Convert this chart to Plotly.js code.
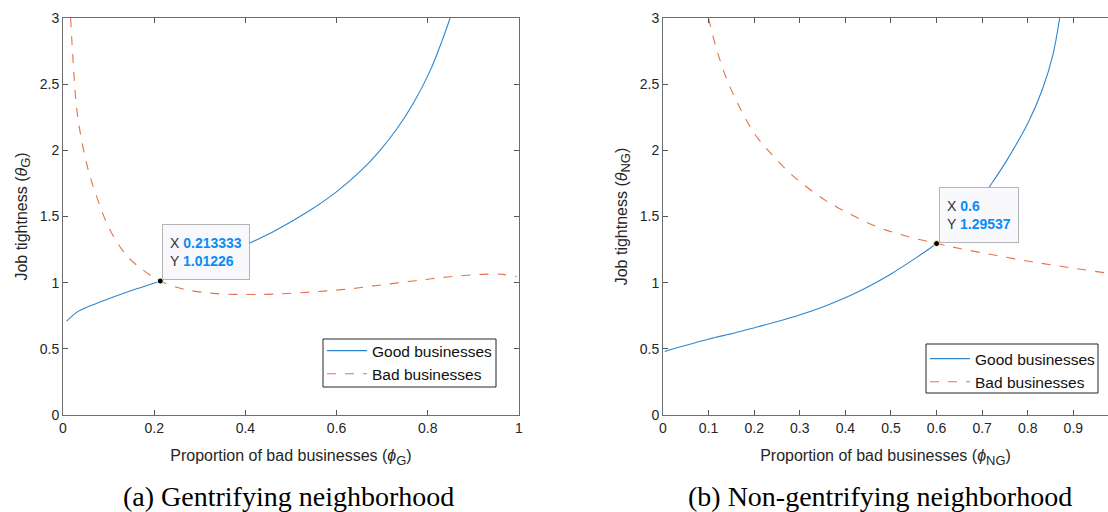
<!DOCTYPE html>
<html>
<head>
<meta charset="utf-8">
<script src="https://cdn.plot.ly/plotly-3.0.1.min.js"></script>
<style>html,body{margin:0;padding:0;background:#fff;}#chart{width:1108px;height:512px;}</style>
</head>
<body>
<div id="chart"></div>
<script>
// ---- Panel (a): Gentrifying neighborhood ----
const gGoodX = [0.008, 0.034, 0.087, 0.147, 0.213, 0.26, 0.31, 0.36, 0.405, 0.465, 0.541, 0.601, 0.654, 0.692, 0.730, 0.768, 0.806, 0.832, 0.849];
const gGoodY = [0.709, 0.785, 0.861, 0.937, 1.012, 1.07, 1.13, 1.21, 1.291, 1.392, 1.545, 1.69, 1.848, 1.987, 2.152, 2.354, 2.608, 2.835, 3.0];
const gBadX = [0.0166, 0.0227, 0.030, 0.0416, 0.0567, 0.0756, 0.102, 0.140, 0.178, 0.213, 0.261, 0.329, 0.405, 0.465, 0.541, 0.617, 0.692, 0.768, 0.843, 0.919, 0.964, 0.995];
const gBadY = [3.0, 2.646, 2.316, 2.063, 1.835, 1.633, 1.405, 1.203, 1.089, 1.012, 0.954, 0.919, 0.911, 0.914, 0.929, 0.949, 0.980, 1.013, 1.043, 1.063, 1.063, 1.046];
const gTip = {x: 0.213333, y: 1.01226};

// ---- Panel (b): Non-gentrifying neighborhood ----
const ngGoodX = [0.004, 0.042, 0.101, 0.157, 0.201, 0.249, 0.301, 0.349, 0.401, 0.449, 0.501, 0.548, 0.600, 0.65, 0.69, 0.719, 0.755, 0.801, 0.832, 0.855, 0.870];
const ngGoodY = [0.481, 0.519, 0.575, 0.620, 0.660, 0.705, 0.758, 0.815, 0.888, 0.968, 1.068, 1.172, 1.296, 1.44, 1.60, 1.74, 1.93, 2.21, 2.46, 2.72, 3.0];
const ngBadX = [0.0997, 0.119, 0.142, 0.173, 0.203, 0.234, 0.272, 0.311, 0.357, 0.403, 0.464, 0.525, 0.600, 0.656, 0.732, 0.809, 0.886, 0.976];
const ngBadY = [3.0, 2.747, 2.519, 2.291, 2.114, 1.987, 1.848, 1.734, 1.620, 1.532, 1.430, 1.36, 1.296, 1.255, 1.205, 1.158, 1.117, 1.071];
const ngTip = {x: 0.6, y: 1.29537};

const seriesNames = ['Good businesses', 'Bad businesses'];
const captions = ['(a) Gentrifying neighborhood', '(b) Non-gentrifying neighborhood'];

const BLUE = '#2f86cc';
const RED = '#e8704a';
const AX = '#262626';
const FONT = 'Liberation Sans, Arial, sans-serif';
const SUB = (s) => '<sub><span style="font-size:13px">' + s + '</span></sub>';

const lineG = {color: BLUE, width: 1.1, shape: 'spline', smoothing: 1};
const lineB = {color: RED, width: 1.1, dash: 'dash', shape: 'spline', smoothing: 1};

const traces = [
  {x: gGoodX, y: gGoodY, type: 'scatter', mode: 'lines', name: seriesNames[0], line: lineG, xaxis: 'x', yaxis: 'y', legend: 'legend'},
  {x: gBadX, y: gBadY, type: 'scatter', mode: 'lines', name: seriesNames[1], line: lineB, xaxis: 'x', yaxis: 'y', legend: 'legend'},
  {x: ngGoodX, y: ngGoodY, type: 'scatter', mode: 'lines', name: seriesNames[0], line: lineG, xaxis: 'x2', yaxis: 'y2', legend: 'legend2'},
  {x: ngBadX, y: ngBadY, type: 'scatter', mode: 'lines', name: seriesNames[1], line: lineB, xaxis: 'x2', yaxis: 'y2', legend: 'legend2'},
  {x: [gTip.x], y: [gTip.y], type: 'scatter', mode: 'markers', marker: {color: '#000', size: 6, line: {color: '#ffffc0', width: 1}}, showlegend: false, xaxis: 'x', yaxis: 'y'},
  {x: [ngTip.x], y: [ngTip.y], type: 'scatter', mode: 'markers', marker: {color: '#000', size: 6, line: {color: '#ffffc0', width: 1}}, showlegend: false, xaxis: 'x2', yaxis: 'y2'}
];

function axisCommon(extra) {
  return Object.assign({
    showgrid: false, zeroline: false, showline: true, linecolor: '#6e6e6e', linewidth: 1,
    ticks: 'inside', ticklen: 5, tickcolor: '#555', tickwidth: 1, mirror: 'ticks',
    tickfont: {family: FONT, size: 14, color: AX}, automargin: false, fixedrange: true
  }, extra);
}
const TFONT = {family: FONT, size: 16, color: AX};

const tipText = (t) => 'X <b><span style="color:#0a8cf5">' + t.x + '</span></b><br>Y <b><span style="color:#0a8cf5">' + t.y + '</span></b>';

const legendBox = (x0, x1, y0, y1) => ({type: 'rect', xref: 'paper', yref: 'paper', x0: x0/1108, x1: x1/1108, y0: 1 - y1/512, y1: 1 - y0/512,
  fillcolor: '#fff', line: {color: AX, width: 1}, layer: 'above'});

const layout = {
  width: 1108, height: 512,
  margin: {l: 0, r: 0, t: 0, b: 0},
  paper_bgcolor: '#fff', plot_bgcolor: '#fff',
  font: {family: FONT, color: AX},
  xaxis: axisCommon({domain: [63/1108, 519/1108], range: [0, 1], dtick: 0.2, anchor: 'y',
    title: {text: 'Proportion of bad businesses (<i>ϕ</i>' + SUB('G') + ')', font: TFONT, standoff: 15}}),
  yaxis: axisCommon({domain: [97/512, 494/512], range: [0, 3], dtick: 0.5, anchor: 'x',
    title: {text: 'Job tightness (<i>θ</i>' + SUB('G') + ')', font: TFONT, standoff: 8}}),
  xaxis2: axisCommon({domain: [663/1108, 1], range: [0, 0.976], dtick: 0.1, anchor: 'y2',
    title: {text: 'Proportion of bad businesses (<i>ϕ</i>' + SUB('NG') + ')', font: TFONT, standoff: 15}}),
  yaxis2: axisCommon({domain: [97/512, 494/512], range: [0, 3], dtick: 0.5, anchor: 'x2', mirror: false,
    title: {text: 'Job tightness (<i>θ</i>' + SUB('NG') + ')', font: TFONT, standoff: 8}}),
  shapes: [legendBox(323, 496, 339, 387), legendBox(926, 1098, 344, 393)],
  legend: {x: 322/1108, y: 1 - 334/512, xanchor: 'left', yanchor: 'top', bgcolor: 'rgba(0,0,0,0)', borderwidth: 0,
    font: {family: FONT, size: 15.5, color: '#111'}, tracegroupgap: 0, itemwidth: 40},
  legend2: {x: 925/1108, y: 1 - 342/512, xanchor: 'left', yanchor: 'top', bgcolor: 'rgba(0,0,0,0)', borderwidth: 0,
    font: {family: FONT, size: 15.5, color: '#111'}, tracegroupgap: 0, itemwidth: 40},
  annotations: [
    {xref: 'x', yref: 'y', x: gTip.x, y: gTip.y, xanchor: 'left', yanchor: 'bottom', xshift: 2, yshift: 1, showarrow: false,
      text: tipText(gTip), align: 'left', valign: 'middle', width: 72, height: 40, bgcolor: '#f8f8fd', bordercolor: '#b4b4b4', borderwidth: 1, borderpad: 7,
      font: {family: FONT, size: 14, color: '#333'}},
    {xref: 'x2', yref: 'y2', x: ngTip.x, y: ngTip.y, xanchor: 'left', yanchor: 'bottom', xshift: 2, yshift: 1, showarrow: false,
      text: tipText(ngTip), align: 'left', valign: 'middle', width: 64, height: 40, bgcolor: '#f8f8fd', bordercolor: '#b4b4b4', borderwidth: 1, borderpad: 7,
      font: {family: FONT, size: 14, color: '#333'}},
    {xref: 'paper', yref: 'paper', x: 288/1108, y: 1 - 496/512, xanchor: 'center', yanchor: 'middle', showarrow: false,
      text: captions[0], font: {family: 'Liberation Serif, Times New Roman, serif', size: 28, color: '#000'}},
    {xref: 'paper', yref: 'paper', x: 880/1108, y: 1 - 496/512, xanchor: 'center', yanchor: 'middle', showarrow: false,
      text: captions[1], font: {family: 'Liberation Serif, Times New Roman, serif', size: 28, color: '#000'}}
  ]
};

Plotly.newPlot('chart', traces, layout, {staticPlot: true, displayModeBar: false});
</script>
</body>
</html>
